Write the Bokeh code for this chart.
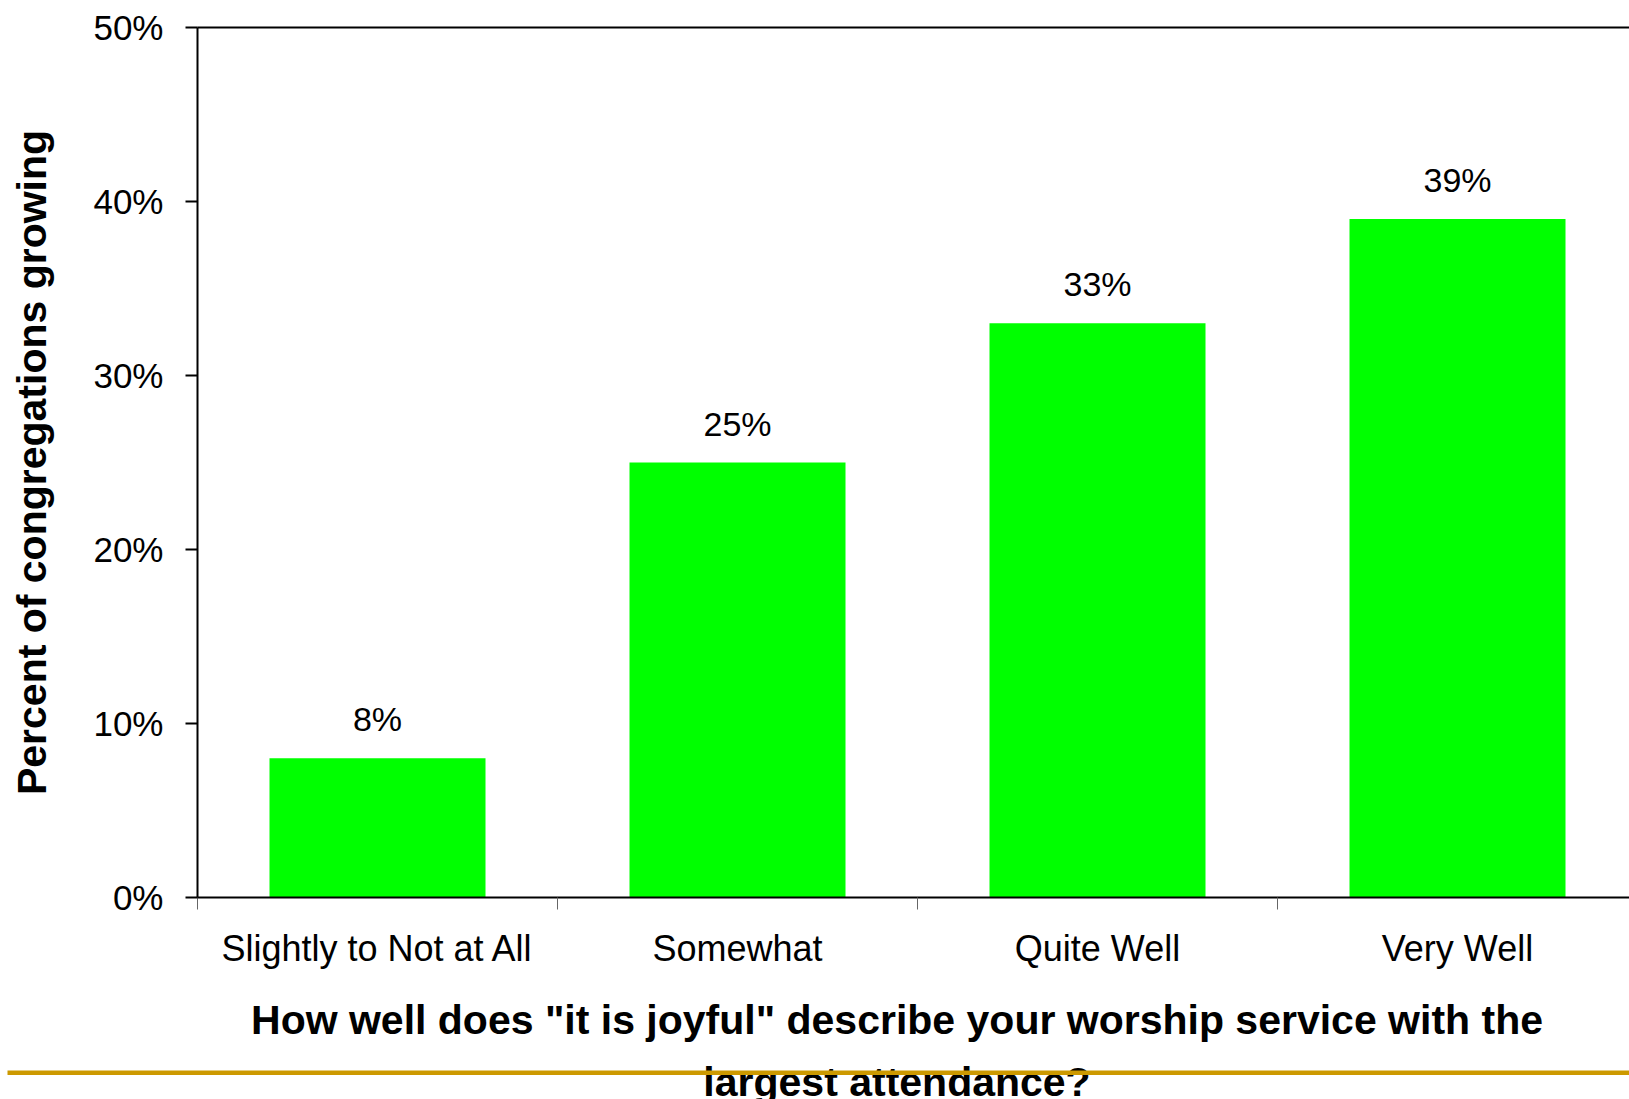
from bokeh.plotting import figure
from bokeh.models import (Range1d, FixedTicker, LinearAxis, PrintfTickFormatter,
                          Label, BoxAnnotation, ColumnDataSource)
from bokeh.embed import file_html
from bokeh.resources import INLINE
from bokeh.core.properties import value

# ---- data ----
categories = ["Slightly to Not at All", "Somewhat", "Quite Well", "Very Well"]
pct_growing = [8, 25, 33, 39]
y_ticks = [0, 10, 20, 30, 40, 50]
y_title = "Percent of congregations growing"
x_title_lines = ['How well does "it is joyful" describe your worship service with the',
                 "largest attendance?"]

# ---- layout (pixels) ----
FONT = "Liberation Sans"
W, H = 1629, 1099
X0_PX = 197.0      # pixel column of the value axis (x = 0)
Y0_PX = 897.0      # pixel row of the category axis (y = 0 %)
CAT_PX = 360.0     # pixels per category
PCT_PX = 17.4      # pixels per percent


def dx(px):
    return (px - X0_PX) / CAT_PX


def dy(py):
    return (Y0_PX - py) / PCT_PX


x_end = dx(W)
y_top = y_ticks[-1]

p = figure(width=W, height=H, output_backend="svg", toolbar_location=None,
           x_range=Range1d(dx(0), x_end), y_range=Range1d(dy(H), dy(0)),
           min_border=0, min_border_left=0, min_border_right=0,
           min_border_top=0, min_border_bottom=0,
           x_axis_location=None, y_axis_location=None)
p.outline_line_color = None
p.background_fill_color = "white"
p.border_fill_color = "white"
p.xgrid.visible = False
p.ygrid.visible = False

x_pos = [i + 0.5 for i in range(len(categories))]
bounds = list(range(len(categories) + 1))

# category axis: labels centred, small ticks at category boundaries
xaxis = LinearAxis(
    fixed_location=0, bounds=(0, x_end),
    ticker=FixedTicker(ticks=x_pos, minor_ticks=bounds),
    major_label_overrides={x: c for x, c in zip(x_pos, categories)},
    axis_line_color="black", axis_line_width=2,
    major_tick_line_color=None, major_tick_in=0, major_tick_out=0,
    minor_tick_line_color="#666666", minor_tick_line_width=1,
    minor_tick_in=0, minor_tick_out=12,
    major_label_text_font=FONT, major_label_text_font_size="36px",
    major_label_text_color="black", major_label_standoff=18)
p.add_layout(xaxis, "below")

# value axis
yaxis = LinearAxis(
    fixed_location=0, bounds=(0, y_top),
    ticker=FixedTicker(ticks=y_ticks), formatter=PrintfTickFormatter(format="%d%%"),
    axis_line_color="black", axis_line_width=2,
    major_tick_out=12, major_tick_in=0, major_tick_line_width=2,
    major_tick_line_color="black", minor_tick_line_color=None,
    major_label_text_font=FONT, major_label_text_font_size="35px",
    major_label_text_color="black", major_label_standoff=22,
    axis_label=y_title, axis_label_text_font=FONT, axis_label_text_font_size="41px",
    axis_label_text_font_style="bold", axis_label_text_color="black",
    axis_label_standoff=35)
p.add_layout(yaxis, "left")

# top border line of the plot area
top_axis = LinearAxis(fixed_location=y_top, bounds=(0, x_end),
                      ticker=FixedTicker(ticks=[]), axis_line_color="black",
                      axis_line_width=2, major_tick_line_color=None,
                      minor_tick_line_color=None, major_label_text_font_size="0px")
p.add_layout(top_axis, "above")

src = ColumnDataSource(dict(x=x_pos, top=pct_growing,
                            label=[f"{v}%" for v in pct_growing]))
p.vbar(x="x", top="top", width=0.6, source=src, fill_color="#00ff00", line_color=None)
p.text(x="x", y="top", text="label", source=src, text_align="center",
       text_baseline="alphabetic", y_offset=-39, text_font=value(FONT),
       text_font_size="34px", text_color="black")

# category-axis title (two lines)
title_baselines = [1019.5, 1081]
for line, base in zip(x_title_lines, title_baselines):
    p.add_layout(Label(x=dx(896.5), y=dy(base), text=line, text_align="center",
                       text_baseline="alphabetic", text_font=FONT,
                       text_font_size="41px", text_font_style="bold",
                       text_color="black"))

# gold rule across the slide
p.add_layout(BoxAnnotation(left=dx(7), right=x_end, top=dy(1070), bottom=dy(1074.5),
                           fill_color="#cc9900", fill_alpha=1, line_color=None,
                           level="overlay"))

open("out.html", "w").write(file_html(p, INLINE))
